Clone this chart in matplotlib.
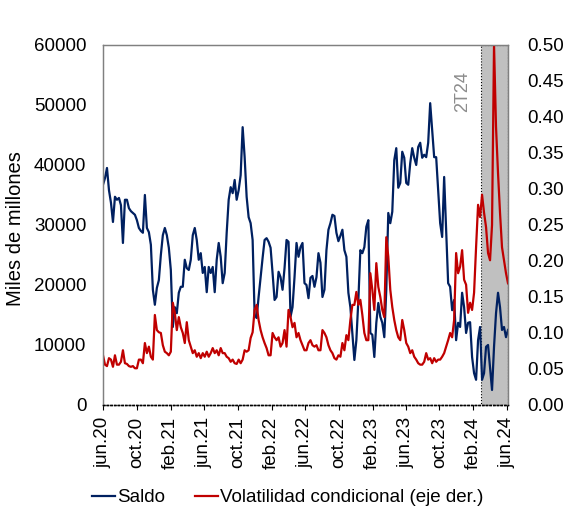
"""
Saldo y volatilidad condicional, jun.20 - jun.24
"""
import matplotlib
matplotlib.use("Agg")
import matplotlib.dates as mdates
import matplotlib.pyplot as plt
import numpy as np
import pandas as pd
from matplotlib.ticker import FuncFormatter, MultipleLocator

plt.rcParams["font.family"] = ["Liberation Sans", "DejaVu Sans"]

start_date = "2020-06-01"
end_date = "2024-06-05"

saldo = [
    36700, 37800, 39500, 35800, 33700, 30500, 34700, 34200, 34500, 33300,
    27000, 34200, 34200, 32800, 32300, 32000, 31700, 30800, 29500, 29000,
    28700, 35000, 29500, 28800, 26700, 19200, 16700, 19500, 20800, 25000,
    28300, 29500, 28300, 26200, 22500, 13000, 16300, 15300, 18700, 19700,
    19700, 24200, 22800, 22500, 24200, 28300, 29500, 27500, 24200, 25300,
    22000, 23000, 18800, 23000, 22000, 23000, 18800, 24200, 27000, 24700,
    20300, 22000, 28700, 34200, 36300, 35300, 37500, 34200, 35800, 38300,
    46300, 41300, 34700, 31300, 30300, 27500, 15000, 14500, 18000, 21300,
    24500, 27500, 27800, 27200, 26200, 22000, 17500, 18000, 22200, 21300,
    19200, 22800, 27500, 27200, 14700, 16300, 21300, 27000, 24700, 26300,
    27000, 20300, 20000, 17800, 21200, 21500, 19700, 21300, 25300, 23700,
    18000, 19200, 25800, 29200, 30300, 31700, 31500, 28700, 27300, 28200,
    29200, 25800, 24700, 18700, 16300, 12000, 7500, 10800, 17500, 25800,
    25300, 26300, 29700, 30800, 12000, 11700, 8000, 13700, 17000, 14700,
    13700, 11300, 19200, 32000, 30300, 32200, 40800, 42800, 36200, 37000,
    42200, 41200, 37000, 36700, 40300, 42800, 41200, 40000, 43000, 43700,
    41200, 41700, 41300, 43700, 50300, 45800, 41300, 41300, 35800, 30300,
    28000, 38000, 29200, 20300, 19700, 15800, 17500, 10800, 13700, 13000,
    18700, 16300, 12000, 13700, 13800, 8000, 5300, 4200, 10800, 13000,
    4200, 5300, 9700, 10000, 6300, 2500, 9700, 15300, 18700, 16300,
    12500, 13000, 11300, 12500,
]

volatilidad = [
    0.069, 0.056, 0.054, 0.065, 0.063, 0.053, 0.069, 0.056, 0.056, 0.060,
    0.076, 0.058, 0.057, 0.054, 0.053, 0.054, 0.051, 0.051, 0.063, 0.063,
    0.058, 0.086, 0.072, 0.081, 0.067, 0.063, 0.125, 0.104, 0.101, 0.100,
    0.083, 0.074, 0.072, 0.069, 0.074, 0.142, 0.128, 0.104, 0.122, 0.108,
    0.100, 0.086, 0.115, 0.090, 0.081, 0.072, 0.076, 0.067, 0.072, 0.065,
    0.072, 0.067, 0.074, 0.067, 0.072, 0.079, 0.072, 0.076, 0.069, 0.079,
    0.072, 0.072, 0.067, 0.065, 0.060, 0.063, 0.058, 0.057, 0.063, 0.058,
    0.063, 0.076, 0.074, 0.076, 0.093, 0.101, 0.132, 0.139, 0.118, 0.104,
    0.094, 0.086, 0.079, 0.069, 0.069, 0.100, 0.094, 0.090, 0.094, 0.081,
    0.086, 0.104, 0.081, 0.132, 0.122, 0.108, 0.114, 0.094, 0.100, 0.090,
    0.083, 0.076, 0.076, 0.086, 0.090, 0.083, 0.081, 0.083, 0.076, 0.076,
    0.104, 0.100, 0.094, 0.083, 0.076, 0.072, 0.065, 0.063, 0.069, 0.067,
    0.086, 0.076, 0.097, 0.090, 0.118, 0.139, 0.139, 0.157, 0.139, 0.146,
    0.125, 0.100, 0.090, 0.090, 0.183, 0.160, 0.132, 0.197, 0.164, 0.150,
    0.132, 0.122, 0.233, 0.206, 0.160, 0.136, 0.118, 0.104, 0.094, 0.090,
    0.118, 0.104, 0.086, 0.081, 0.072, 0.076, 0.067, 0.063, 0.058, 0.056,
    0.056, 0.060, 0.072, 0.063, 0.065, 0.058, 0.065, 0.060, 0.063, 0.063,
    0.067, 0.072, 0.081, 0.090, 0.100, 0.094, 0.118, 0.211, 0.183, 0.192,
    0.215, 0.174, 0.167, 0.128, 0.142, 0.132, 0.156, 0.219, 0.278, 0.261,
    0.292, 0.267, 0.247, 0.211, 0.201, 0.250, 0.500, 0.386, 0.322, 0.267,
    0.219, 0.201, 0.183, 0.169,
]

# Shaded period (2T24)
shade_start = "2024-03-01"
shade_label = "2T24"

month_names = {2: "feb", 6: "jun", 10: "oct"}

fechas = pd.date_range(start_date, end_date, periods=len(saldo))

fig = plt.figure(figsize=(5.64, 5.08), dpi=100)
ax = fig.add_axes([0.1826, 0.2028, 0.7181, 0.7087])
ax2 = ax.twinx()

# Shaded quarter with dotted borders
ax.axvspan(pd.Timestamp(shade_start), pd.Timestamp(end_date),
           facecolor="#c0c0c0", edgecolor="black", linestyle=":",
           linewidth=0.8, zorder=0)
ax.text(pd.Timestamp(shade_start) - pd.Timedelta(days=36), 55700, shade_label,
        rotation=90, ha="right", va="top", fontsize=13, color="#8c8c8c")

l1, = ax.plot(fechas, saldo, color="#002060", linewidth=1.6, label="Saldo")
l2, = ax2.plot(fechas, volatilidad, color="#c00000", linewidth=1.6,
               label="Volatilidad condicional (eje der.)")

ax.set_xlim(pd.Timestamp(start_date), pd.Timestamp(end_date))
ax.set_ylim(0, 60000)
ax2.set_ylim(0, 0.5)
ax.yaxis.set_major_locator(MultipleLocator(10000))
ax2.yaxis.set_major_locator(MultipleLocator(0.05))
ax2.yaxis.set_major_formatter(FuncFormatter(lambda v, p: f"{v:.2f}"))

ax.xaxis.set_major_locator(mdates.MonthLocator(bymonth=[2, 6, 10]))
ax.xaxis.set_major_formatter(FuncFormatter(
    lambda v, p: f"{month_names[mdates.num2date(v).month]}."
                 f"{mdates.num2date(v).year % 100:02d}"))
plt.setp(ax.get_xticklabels(), rotation=90, ha="center", va="top")

ax.tick_params(axis="x", direction="out", length=3.5, width=0.8,
               labelsize=13.5, pad=5)
ax.tick_params(axis="y", length=0, labelsize=13.5, pad=12)
ax2.tick_params(axis="y", length=0, labelsize=13.5, pad=14)

for a in (ax, ax2):
    for side in ("left", "right", "top"):
        a.spines[side].set_color("#808080")
        a.spines[side].set_linewidth(0.9)
    a.spines["bottom"].set_color("black")
    a.spines["bottom"].set_linestyle(":")
    a.spines["bottom"].set_linewidth(1.0)

ax.set_ylabel("Miles de millones", fontsize=14.5)
ax.yaxis.set_label_coords(-0.193, 0.49)

fig.legend(handles=[l1, l2], loc="center", bbox_to_anchor=(0.51, 0.02),
           ncol=2, frameon=False, fontsize=13.5, handlelength=1.25,
           handletextpad=0.1, columnspacing=1.6)

fig.savefig("out.png", dpi=100)
